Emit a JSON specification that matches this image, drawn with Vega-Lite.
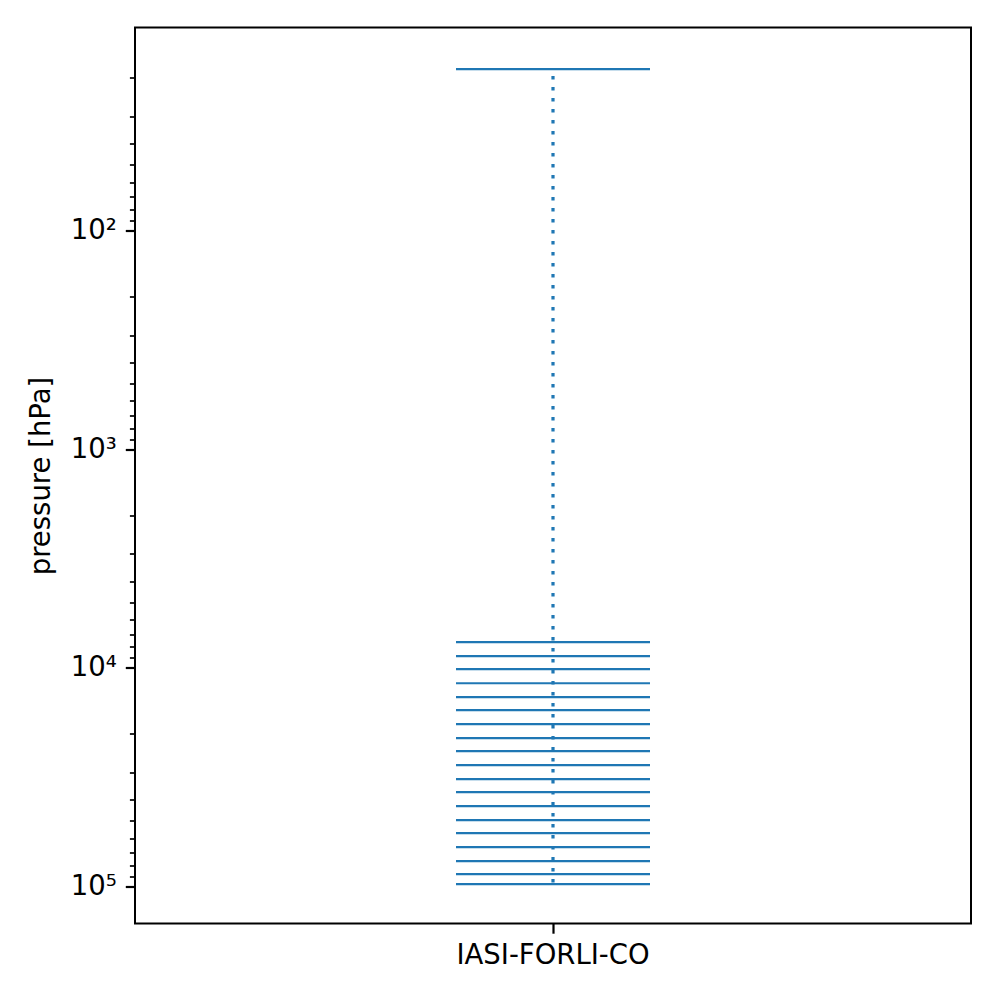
{
  "$schema": "https://vega.github.io/schema/vega-lite/v6.json",
  "autosize": "none",
  "width": 836,
  "height": 896,
  "padding": {"left": 135, "top": 27.5, "right": 29, "bottom": 76.5},
  "background": "white",
  "config": {
    "view": {"stroke": "#000", "strokeWidth": 2},
    "font": "DejaVu Sans",
    "axis": {
      "labelFont": "DejaVu Sans",
      "titleFont": "DejaVu Sans",
      "labelColor": "#000",
      "titleColor": "#000",
      "tickColor": "#000",
      "domain": false,
      "grid": false,
      "labelFontSize": 27.5,
      "titleFontSize": 27.5,
      "titleFontWeight": "normal",
      "labelLimit": 500
    }
  },
  "data": {
    "values": [
      {"instrument": "IASI-FORLI-CO", "pressure": 18.2},
      {"instrument": "IASI-FORLI-CO", "pressure": 7620},
      {"instrument": "IASI-FORLI-CO", "pressure": 8830},
      {"instrument": "IASI-FORLI-CO", "pressure": 10130},
      {"instrument": "IASI-FORLI-CO", "pressure": 11740},
      {"instrument": "IASI-FORLI-CO", "pressure": 13600},
      {"instrument": "IASI-FORLI-CO", "pressure": 15600},
      {"instrument": "IASI-FORLI-CO", "pressure": 18070},
      {"instrument": "IASI-FORLI-CO", "pressure": 20940},
      {"instrument": "IASI-FORLI-CO", "pressure": 24020},
      {"instrument": "IASI-FORLI-CO", "pressure": 27840},
      {"instrument": "IASI-FORLI-CO", "pressure": 32260},
      {"instrument": "IASI-FORLI-CO", "pressure": 36990},
      {"instrument": "IASI-FORLI-CO", "pressure": 42860},
      {"instrument": "IASI-FORLI-CO", "pressure": 49660},
      {"instrument": "IASI-FORLI-CO", "pressure": 56980},
      {"instrument": "IASI-FORLI-CO", "pressure": 66020},
      {"instrument": "IASI-FORLI-CO", "pressure": 76510},
      {"instrument": "IASI-FORLI-CO", "pressure": 87720},
      {"instrument": "IASI-FORLI-CO", "pressure": 97500}
    ]
  },
  "encoding": {
    "x": {
      "field": "instrument",
      "type": "nominal",
      "scale": {"paddingInner": 0, "paddingOuter": 0},
      "axis": {
        "title": null,
        "labelAngle": 0,
        "tickSize": 9.7,
        "tickWidth": 2.2,
        "labelPadding": 8
      }
    }
  },
  "layer": [
    {
      "mark": {"type": "rule", "color": "#1f77b4", "strokeWidth": 3.2, "strokeDash": [3.5, 7.5], "strokeDashOffset": 4},
      "encoding": {
        "y": {
          "aggregate": "min",
          "field": "pressure",
          "type": "quantitative",
          "scale": {"type": "log", "domain": [11.75, 147500], "reverse": true, "nice": false, "zero": false},
          "axis": {
            "title": "pressure [hPa]",
            "titlePadding": 15,
            "values": [20,30,40,50,60,70,80,90,100,200,300,400,500,600,700,800,900,1000,2000,3000,4000,5000,6000,7000,8000,9000,10000,20000,30000,40000,50000,60000,70000,80000,90000,100000],
            "labelExpr": "datum.value == 100 ? '10²' : datum.value == 1000 ? '10³' : datum.value == 10000 ? '10⁴' : datum.value == 100000 ? '10⁵' : ''",
            "labelOverlap": false,
            "labelPadding": 9,
            "tickSize": {"condition": {"test": "indexof([100,1000,10000,100000], datum.value) >= 0", "value": 9.7}, "value": 5.6},
            "tickWidth": {"condition": {"test": "indexof([100,1000,10000,100000], datum.value) >= 0", "value": 2.2}, "value": 1.7}
          }
        },
        "y2": {"aggregate": "max", "field": "pressure"}
      }
    },
    {
      "mark": {"type": "tick", "color": "#1f77b4", "size": 194, "thickness": 2.2, "opacity": 1},
      "encoding": {
        "y": {"field": "pressure", "type": "quantitative"}
      }
    }
  ]
}
